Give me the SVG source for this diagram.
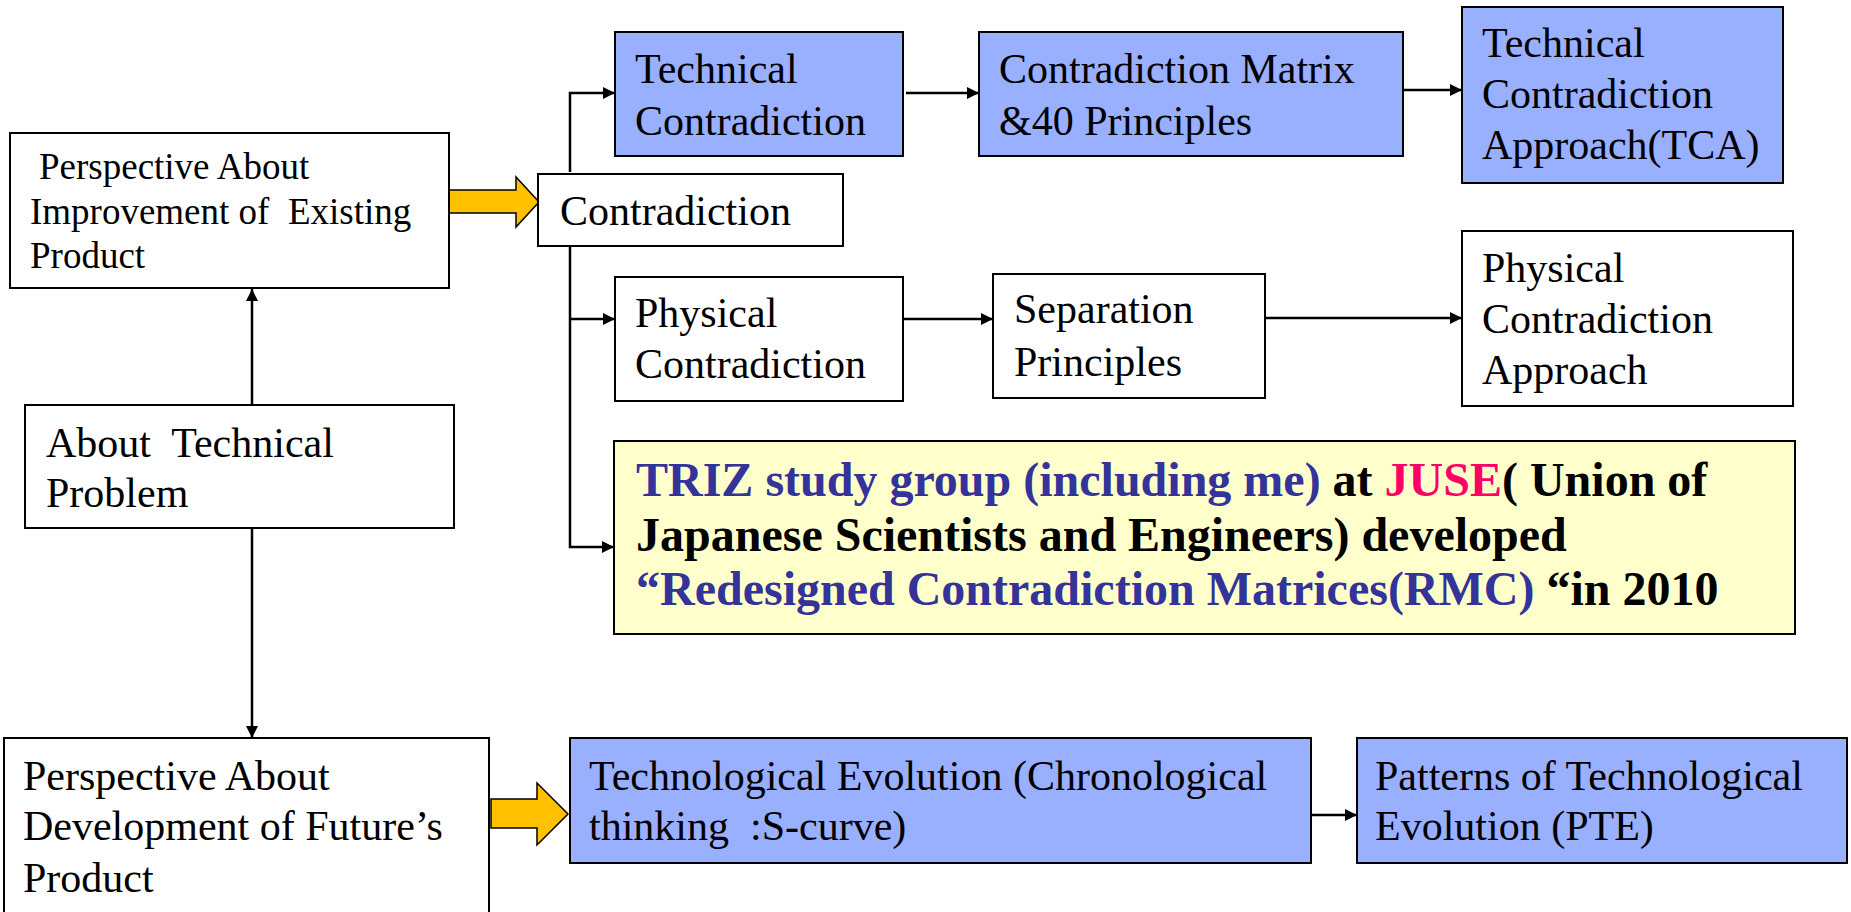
<svg xmlns="http://www.w3.org/2000/svg" width="1851" height="912" viewBox="0 0 1851 912">
<style>
.box{fill:#ffffff;stroke:#000;stroke-width:2}
.blue{fill:#99AFFF;stroke:#000;stroke-width:2}
.yel{fill:#FFFFCC;stroke:#000;stroke-width:2}
.t{font-family:"Liberation Serif","Times New Roman",serif;font-size:42px;fill:#000;white-space:pre}
.ts{font-size:37px}
.b{font-family:"Liberation Serif","Times New Roman",serif;font-size:48px;font-weight:bold;fill:#000;white-space:pre}
.nb{fill:#333399}
.jr{fill:#FF0066}
.c{fill:none;stroke:#000;stroke-width:2.5}
.fat{fill:#FFC000;stroke:#000;stroke-width:1.5}
</style>
<defs>
<marker id="ah" markerUnits="userSpaceOnUse" markerWidth="14" markerHeight="14" refX="12" refY="6" orient="auto">
<path d="M0,0 L12,6 L0,12 z" fill="#000"/>
</marker>
</defs>
<rect width="1851" height="912" fill="#fff"/>

<g id="connectors">
<path class="c" d="M570,172 V93 H615" marker-end="url(#ah)"/>
<path class="c" d="M906,93 H979" marker-end="url(#ah)"/>
<path class="c" d="M1403,90 H1462" marker-end="url(#ah)"/>
<path class="c" d="M570,245 V547 H614" marker-end="url(#ah)"/>
<path class="c" d="M570,319 H615" marker-end="url(#ah)"/>
<path class="c" d="M903,319 H993" marker-end="url(#ah)"/>
<path class="c" d="M1265,318 H1462" marker-end="url(#ah)"/>
<path class="c" d="M252,405 V289" marker-end="url(#ah)"/>
<path class="c" d="M252,528 V738" marker-end="url(#ah)"/>
<path class="c" d="M1311,815 H1357" marker-end="url(#ah)"/>
<polygon class="fat" points="449,190 516,190 516,177 539,202 516,227 516,213 449,213"/>
<polygon class="fat" points="491,799 537,799 537,783 568,814 537,845 537,828 491,828"/>
</g>

<g id="improve">
<rect class="box" x="10" y="133" width="439" height="155"/>
<text class="t ts"><tspan x="39" y="179">Perspective About</tspan><tspan x="30" y="224">Improvement of  Existing</tspan><tspan x="30" y="268">Product</tspan></text>
</g>

<g id="contradiction">
<rect class="box" x="538" y="174" width="305" height="72"/>
<text class="t" x="560" y="225">Contradiction</text>
</g>

<g id="technical">
<rect class="blue" x="615" y="32" width="288" height="124"/>
<text class="t"><tspan x="635" y="83">Technical</tspan><tspan x="635" y="135">Contradiction</tspan></text>
</g>

<g id="matrix">
<rect class="blue" x="979" y="32" width="424" height="124"/>
<text class="t"><tspan x="999" y="83">Contradiction Matrix</tspan><tspan x="999" y="135">&amp;40 Principles</tspan></text>
</g>

<g id="tca">
<rect class="blue" x="1462" y="7" width="321" height="176"/>
<text class="t"><tspan x="1482" y="57">Technical</tspan><tspan x="1482" y="108">Contradiction</tspan><tspan x="1482" y="159">Approach(TCA)</tspan></text>
</g>

<g id="physical">
<rect class="box" x="615" y="277" width="288" height="124"/>
<text class="t"><tspan x="635" y="327">Physical</tspan><tspan x="635" y="378">Contradiction</tspan></text>
</g>

<g id="separation">
<rect class="box" x="993" y="274" width="272" height="124"/>
<text class="t"><tspan x="1014" y="323">Separation</tspan><tspan x="1014" y="376">Principles</tspan></text>
</g>

<g id="pca">
<rect class="box" x="1462" y="231" width="331" height="175"/>
<text class="t"><tspan x="1482" y="282">Physical</tspan><tspan x="1482" y="333">Contradiction</tspan><tspan x="1482" y="384">Approach</tspan></text>
</g>

<g id="triz">
<rect class="yel" x="614" y="441" width="1181" height="193"/>
<text class="b" x="636" y="496"><tspan class="nb">TRIZ study group (including me)</tspan> at <tspan class="jr">JUSE</tspan>( Union of</text>
<text class="b" x="636" y="551">Japanese Scientists and Engineers) developed</text>
<text class="b" x="636" y="605"><tspan class="nb">“Redesigned Contradiction Matrices(RMC) </tspan>“in 2010</text>
</g>

<g id="about">
<rect class="box" x="25" y="405" width="429" height="123"/>
<text class="t"><tspan x="46" y="457">About  Technical</tspan><tspan x="46" y="507">Problem</tspan></text>
</g>

<g id="future">
<rect class="box" x="4" y="738" width="485" height="190"/>
<text class="t"><tspan x="23" y="790">Perspective About</tspan><tspan x="23" y="840">Development of Future’s</tspan><tspan x="23" y="892">Product</tspan></text>
</g>

<g id="evolution">
<rect class="blue" x="570" y="738" width="741" height="125"/>
<text class="t"><tspan x="589" y="790">Technological Evolution (Chronological</tspan><tspan x="589" y="840">thinking  :S-curve)</tspan></text>
</g>

<g id="pte">
<rect class="blue" x="1357" y="738" width="490" height="125"/>
<text class="t"><tspan x="1375" y="790">Patterns of Technological</tspan><tspan x="1375" y="840">Evolution (PTE)</tspan></text>
</g>
</svg>
